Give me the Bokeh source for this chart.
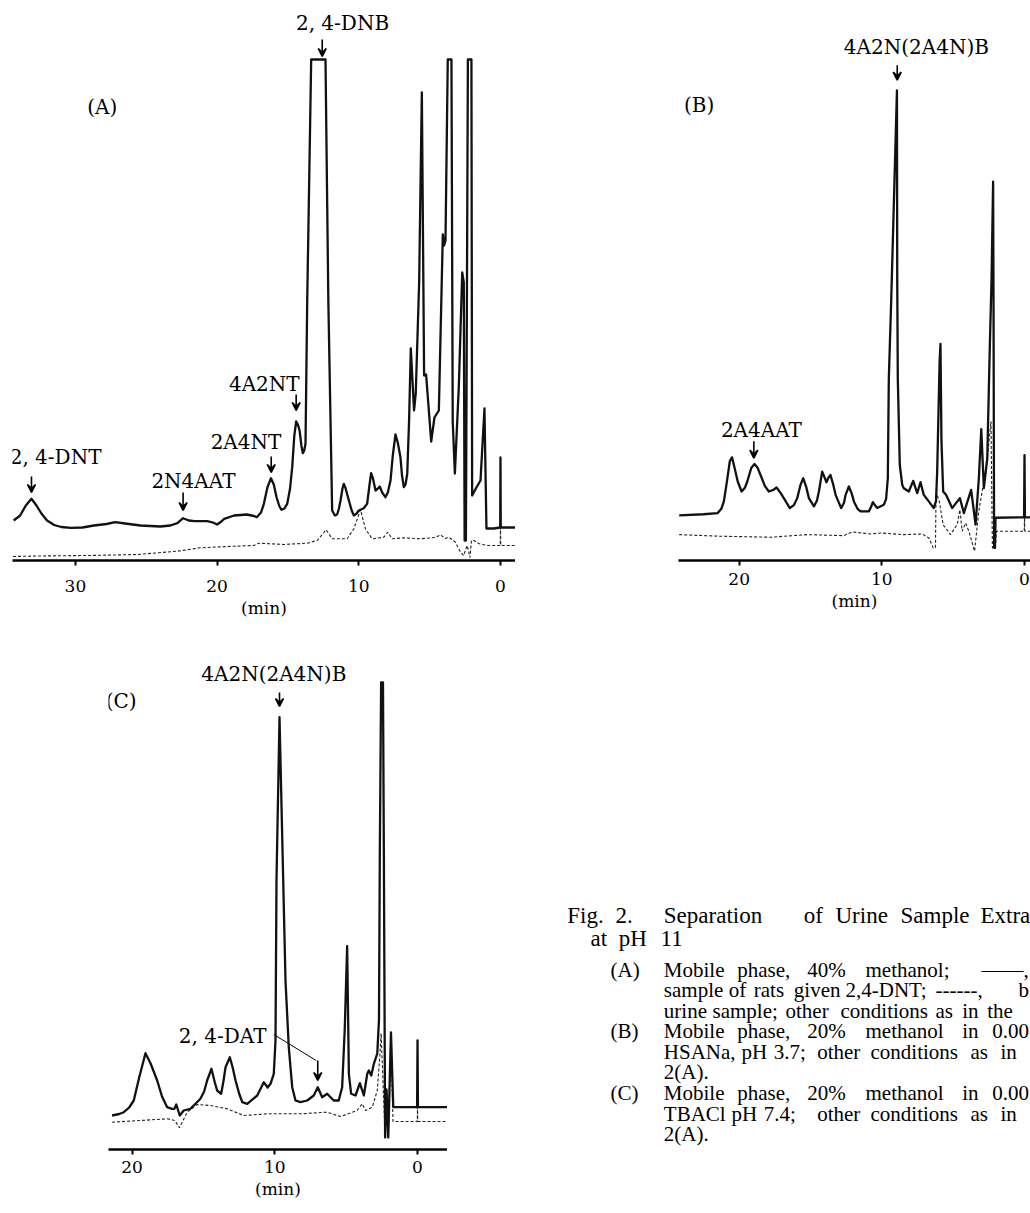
from bokeh.plotting import figure
from bokeh.models import Range1d, FixedTicker, Label, Arrow, VeeHead, Title
from bokeh.layouts import row, column
from bokeh.embed import file_html
from bokeh.resources import INLINE
from bokeh.core.properties import value

SERIF = "DejaVu Serif"
CAPFONT = "Liberation Serif"

# ---------------- data: panel A (40% methanol) ----------------
a_solid_min = [34.36, 33.9, 33.5, 33.1, 32.75, 32.4, 32.0, 31.5, 31.0, 30.3,
               29.5, 28.7, 27.8, 27.2, 26.5, 25.4, 24.0, 23.3, 22.8, 22.4,
               22.0, 21.6, 20.7, 20.3, 20.0, 19.7, 19.5, 18.8, 17.9, 17.4,
               17.2, 16.9, 16.7, 16.45, 16.2, 16.0, 15.8, 15.6, 15.45, 15.25,
               15.05, 14.85, 14.7, 14.55, 14.42, 14.3, 14.18, 14.05, 13.95, 13.85,
               13.76, 13.64, 13.36, 12.35, 12.15, 11.88, 11.69, 11.53, 11.4, 11.29,
               11.15, 11.06, 10.95, 10.7, 10.5, 10.35, 10.15, 10.0, 9.65, 9.41,
               9.25, 9.13, 9.0, 8.82, 8.65, 8.52, 8.35, 8.12, 7.95, 7.76,
               7.6, 7.41, 7.25, 7.06, 6.95, 6.82, 6.7, 6.58, 6.45, 6.33,
               6.1, 5.98, 5.74, 5.55, 5.39, 5.25, 4.89, 4.66, 4.35, 4.07,
               3.98, 3.88, 3.72, 3.46, 3.37, 3.22, 2.94, 2.7, 2.59, 2.53,
               2.44, 2.3, 2.05, 2.0, 1.7, 1.41, 1.13, 0.99, 0.47, 0.02,
               0.0, -0.02, -1.06]
a_solid_sig = [40, 45, 55, 61.7, 55, 47, 40, 35.5, 33.5, 32.7,
               33, 35, 36.5, 38.3, 37, 35, 34, 35, 37.3, 42.3,
               40, 39.3, 39.3, 38, 36, 39, 41.7, 45, 46, 44.5,
               43.3, 48, 56.7, 73, 82.3, 76, 63, 54, 50.7, 52,
               56.7, 72, 93.3, 125, 139, 136, 130, 115, 107.3, 110,
               116.7, 260, 501, 501, 260, 50, 45, 46, 52, 60,
               72, 76.7, 73, 60, 50, 45, 47, 50, 52.3, 56.7,
               75, 87.3, 82, 70, 72, 74, 68, 63.3, 68, 80,
               105, 126, 118, 103.3, 85, 73.3, 76, 86.7, 140, 212,
               150, 167, 278, 468, 185, 186, 119, 143, 150, 326,
               315, 320, 501, 501, 139, 87, 174, 288, 278, 20,
               20, 501, 501, 65, 73, 80, 152, 32, 32, 33,
               103, 33, 33]
a_blank_min = [34.4, 32.7, 29.1, 25.6, 22.8, 21.2, 18.8, 17.4, 17.06, 15.3,
               13.64, 12.94, 12.3, 11.88, 10.82, 10.35, 9.88, 9.53, 9.06, 8.24,
               7.95, 7.64, 6.8, 5.65, 4.6, 4.23, 3.9, 3.65, 3.18, 2.82,
               2.6, 2.35, 2.15, 2.05, 1.88, 1.5, 0.94, 0.02, 0.0, -0.02,
               -1.06]
a_blank_sig = [4, 4.5, 5, 6, 9.3, 12.7, 14.3, 15, 17.3, 16,
               17.3, 20, 30.7, 21.7, 21.7, 31.7, 50.7, 31.7, 21.7, 23.3,
               28.3, 21.7, 22.7, 21.7, 23, 25.7, 22, 23.3, 18.3, 8.3,
               5, 15, 3, 20, 20, 16.7, 15, 15, 33, 15,
               15]
a_ticks = [30, 20, 10, 0]
a_peak_names = ["2, 4-DNT", "2N4AAT", "2A4NT", "4A2NT", "2, 4-DNB"]
a_peak_min = [33.1, 22.4, 16.18, 14.42, 12.58]

# ---------------- data: panel B (20% MeOH, HSANa pH 3.7) ----------------
b_solid_min = [24.2, 22.5, 21.5, 21.25, 21.07, 20.85, 20.65, 20.5, 20.35, 20.1,
               19.83, 19.6, 19.43, 19.15, 18.92, 18.7, 18.5, 18.2, 17.92, 17.6,
               17.38, 17.1, 16.87, 16.45, 16.15, 15.93, 15.7, 15.51, 15.3, 15.11,
               14.76, 14.55, 14.41, 14.18, 14.0, 13.88, 13.75, 13.6, 13.4, 13.24,
               12.85, 12.65, 12.54, 12.31, 12.1, 11.96, 11.7, 11.49, 10.91, 10.75,
               10.63, 10.45, 10.32, 9.86, 9.7, 9.58, 9.51, 9.34, 8.94, 8.92,
               8.88, 8.74, 8.57, 8.46, 8.11, 7.8, 7.52, 7.29, 7.06, 6.71,
               6.36, 6.2, 6.12, 5.95, 5.89, 5.82, 5.7, 5.5, 5.07, 4.53,
               4.25, 3.74, 3.43, 3.2, 3.03, 2.85, 2.61, 2.43, 2.31, 2.2,
               2.17, 2.13, 2.07, 2.03, 0.03, 0.0, -0.03, -0.42]
b_solid_sig = [45.4, 46.5, 47.7, 52, 59.4, 80, 100, 103.7, 95, 79.4,
               69.4, 73, 79.4, 93, 97, 93, 86, 75, 69.4, 71,
               73.4, 68, 62.7, 52.7, 56, 62.7, 76, 82.7, 74, 62.7,
               54.4, 60, 69.4, 89.4, 83, 78.7, 83, 86, 76, 66,
               52.7, 58, 66, 74.4, 67, 59.4, 52, 49.4, 49.4, 54,
               58.7, 55, 52.7, 56, 62, 82.7, 182.7, 262.7, 472.7, 282.7,
               182.7, 96, 76, 72.7, 69.4, 80, 67.7, 78.7, 66, 59.4,
               52.7, 60, 89.4, 200, 217.7, 120, 69.4, 66, 52.7, 62.7,
               47.7, 71, 36, 82.7, 132, 72.7, 102.7, 216, 282.7, 381,
               250, 12.7, 12.7, 43, 43.4, 106, 43.4, 43.4]
b_blank_min = [24.2, 21.3, 17.8, 15.23, 12.66, 12.07, 10.79, 10.09, 8.46, 7.17,
               6.71, 6.4, 6.24, 6.2, 5.98, 5.7, 5.19, 4.72, 4.53, 4.37,
               4.13, 3.9, 3.5, 3.2, 2.97, 2.73, 2.55, 2.35, 2.25, 2.05,
               1.96, 0.02, 0.0, -0.02, -0.42]
b_blank_sig = [26, 24.4, 23.4, 26, 25, 28.7, 26.7, 27.7, 26, 26.7,
               22.7, 12.7, 12.7, 69, 60, 35.9, 26, 36, 51, 29.4,
               37.7, 29.4, 9.4, 50, 69.4, 86, 110, 140, 12.7, 12.7,
               29.4, 29.4, 43.4, 29.4, 29.4]
b_ticks = [20, 10, 0]
b_peak_names = ["2A4AAT", "4A2N(2A4N)B"]
b_peak_min = [18.97, 8.92]

# ---------------- data: panel C (20% MeOH, TBACl pH 7.4) ----------------
c_solid_min = [21.4, 20.9, 20.58, 20.2, 19.88, 19.5, 19.06, 18.7, 18.24, 17.9,
               17.54, 17.2, 17.03, 16.9, 16.66, 16.38, 15.91, 15.21, 14.95, 14.74,
               14.44, 14.2, 14.04, 13.76, 13.6, 13.45, 13.15, 12.95, 12.75, 12.5,
               12.28, 11.93, 11.23, 10.77, 10.5, 10.3, 10.07, 9.95, 9.88, 9.67,
               9.41, 9.25, 9.02, 8.78, 8.55, 8.2, 7.73, 7.27, 6.99, 6.68,
               6.33, 5.87, 5.52, 5.28, 5.1, 4.93, 4.81, 4.65, 4.34, 4.04,
               3.76, 3.52, 3.41, 3.24, 3.06, 2.82, 2.7, 2.64, 2.55, 2.42,
               2.36, 2.27, 2.17, 2.05, 1.86, 1.7, 0.03, 0.0, -0.03, -2.08]
c_solid_sig = [34, 35.5, 37.3, 42, 49, 72, 96.3, 86, 69, 53,
               42.3, 40.7, 40.7, 45, 34, 39, 40.7, 50.7, 58, 69,
               80.7, 67, 59, 55.7, 68, 82.3, 92.3, 82, 69, 56,
               47.3, 45.7, 54, 67.3, 62, 65.7, 75.7, 109, 269, 432.3,
               269, 169, 102.3, 62.3, 49, 47.3, 49, 54, 62.3, 52.3,
               55.7, 49, 49, 62.3, 120, 203.3, 75.7, 55.7, 54, 66.3,
               54, 75.7, 79, 74, 85.7, 96, 130, 300, 467, 467,
               300, 12, 60, 12, 117, 42.3, 42.3, 109, 42.3, 42.3]
c_blank_min = [21.4, 19.41, 17.54, 17.0, 16.68, 16.14, 15.44, 14.5, 13.34, 12.17,
               10.53, 8.2, 6.33, 5.4, 4.23, 3.88, 3.64, 3.17, 2.82, 2.65,
               2.55, 2.27, 2.05, 1.86, 1.72, 0.02, 0.0, -0.02, -2.08]
c_blank_sig = [27.3, 29, 30.7, 29, 21.7, 37.3, 45, 44, 40.7, 34,
               35.7, 35.7, 37.3, 33, 39, 45.7, 39, 42.3, 59, 92,
               116, 12, 12, 116, 28, 28, 42.3, 28, 28]
c_ticks = [20, 10, 0]
c_peak_names = ["4A2N(2A4N)B", "2, 4-DAT"]
c_peak_min = [9.67, 6.99]

# ---------------- caption ----------------
caption_lines = [
    ["Fig.", "2.", "Separation", "of", "Urine", "Sample", "Extra"],
    ["at", "pH", "11"],
    ["(A)", "Mobile", "phase,", "40%", "methanol;", "——,"],
    ["sample", "of", "rats", "given", "2,4-DNT;", "------,", "b"],
    ["urine", "sample;", "other", "conditions", "as", "in", "the"],
    ["(B)", "Mobile", "phase,", "20%", "methanol", "in", "0.00"],
    ["HSANa,", "pH", "3.7;", "other", "conditions", "as", "in"],
    ["2(A)."],
    ["(C)", "Mobile", "phase,", "20%", "methanol", "in", "0.00"],
    ["TBACl", "pH", "7.4;", "other", "conditions", "as", "in"],
    ["2(A)."],
]
caption_word_x = [
    [566.7, 615, 663.3, 803.3, 835, 900, 980],
    [590, 618.3, 660],
    [610, 663.3, 736.7, 806.7, 865, 981],
    [663.3, 728.3, 753.3, 793.3, 845, 935, 1018],
    [663.3, 712, 785, 840, 935, 961.7, 986.7],
    [610, 663.3, 736.7, 806.7, 865, 961.7, 991.7],
    [663.3, 741, 773.3, 816.7, 870, 970, 1000],
    [663.3],
    [610, 663.3, 736.7, 806.7, 865, 961.7, 991.7],
    [663.3, 731, 763.3, 816.7, 870, 970, 1000],
    [663.3],
]
caption_line_y = [940, 967, 1003, 1027, 1051, 1075, 1099, 1123, 1147, 1171, 1195]
caption_line_size = [23, 23, 21, 21, 21, 21, 21, 21, 21, 21, 21]


def panel(width, height, left, bottom, xr, yr, ticks, standoff, min_offset, top=0):
    p = figure(width=width, height=height, output_backend="svg", toolbar_location=None,
               x_range=Range1d(*xr), y_range=Range1d(*yr), y_axis_location=None,
               min_border_left=left, min_border_right=0, min_border_top=top,
               min_border_bottom=bottom, title=None)
    p.outline_line_color = None
    p.grid.visible = False
    p.background_fill_color = "white"
    p.border_fill_color = "white"
    ax = p.xaxis[0]
    ax.ticker = FixedTicker(ticks=ticks)
    ax.axis_line_width = 2.5
    ax.axis_line_color = "black"
    ax.major_tick_out = 5
    ax.major_tick_in = 0
    ax.minor_tick_out = 0
    ax.minor_tick_in = 0
    ax.major_tick_line_width = 2
    ax.major_label_text_font = SERIF
    ax.major_label_text_font_size = "17px"
    ax.major_label_text_color = "black"
    ax.major_label_standoff = standoff
    p.add_layout(Title(text="(min)", align="center", offset=min_offset, standoff=2,
                       text_font=SERIF, text_font_size="17px", text_font_style="normal",
                       text_color="black"), "below")
    return p


def traces(p, sm, ss, bm, bs):
    p.line(bm, bs, line_width=1.1, line_color="#222222", line_dash="3 2")
    p.line(sm, ss, line_width=2.3, line_color="#111111", line_join="round")


def lab(p, x, y, text, size="20px"):
    p.add_layout(Label(x=x, y=y, text=text, text_font=SERIF, text_font_size=size,
                       text_align="center", text_baseline="middle", text_color="black"))


def arrow(p, x, y0, y1):
    p.add_layout(Arrow(end=VeeHead(size=8, line_width=1.6, line_color="black", fill_color="black"),
                       x_start=x, y_start=y0, x_end=x, y_end=y1,
                       line_width=1.6, line_color="black"))


# ---------------- panel A ----------------
pA = panel(515, 630, 12, 70, (34.44, -1.06), (0, 560), a_ticks, 14, -7.5)
traces(pA, a_solid_min, a_solid_sig, a_blank_min, a_blank_sig)
lab(pA, 28.1, 454, "(A)")
lab(pA, 31.4, 103.3, a_peak_names[0])
lab(pA, 21.67, 80, a_peak_names[1])
lab(pA, 17.96, 119, a_peak_names[2])
lab(pA, 16.67, 176.7, a_peak_names[3])
lab(pA, 11.15, 537.3, a_peak_names[4])
arrow(pA, a_peak_min[0], 84, 68)
arrow(pA, a_peak_min[1], 68, 50)
arrow(pA, a_peak_min[2], 104, 88)
arrow(pA, a_peak_min[3], 166, 150)
arrow(pA, a_peak_min[4], 521, 504)

# ---------------- panel B ----------------
pB = panel(515, 630, 163, 67, (24.25, -0.42), (0, 563), b_ticks, 7, 28)
traces(pB, b_solid_min, b_solid_sig, b_blank_min, b_blank_sig)
lab(pB, 22.8, 457.7, "(B)")
lab(pB, 18.44, 131.7, b_peak_names[0])
lab(pB, 7.58, 516, b_peak_names[1])
arrow(pB, b_peak_min[0], 120, 103)
arrow(pB, b_peak_min[1], 498, 483)

# ---------------- panel C ----------------
pC = panel(447, 583, 108, 64, (21.65, -2.1), (0, 499), c_ticks, 6, 5, top=20)
traces(pC, c_solid_min, c_solid_sig, c_blank_min, c_blank_sig)
lab(pC, 20.76, 449, "(C)")
lab(pC, 10.07, 475.7, c_peak_names[0])
lab(pC, 13.65, 114, c_peak_names[1])
arrow(pC, c_peak_min[0], 457, 443)
pC.add_layout(Arrow(end=None, x_start=10.07, y_start=115, x_end=7.1, y_end=89,
                    line_width=1, line_color="black"))
arrow(pC, c_peak_min[1], 89, 69)

# ---------------- caption ----------------
pCap = figure(width=583, height=583, output_backend="svg", toolbar_location=None,
              x_range=Range1d(447, 1030), y_range=Range1d(1213, 630),
              x_axis_location=None, y_axis_location=None, min_border=0, title=None)
pCap.outline_line_color = None
pCap.grid.visible = False
for words, xs, y, size in zip(caption_lines, caption_word_x, caption_line_y, caption_line_size):
    pCap.text(x=xs, y=[y] * len(xs), text=words, text_font=value(CAPFONT),
              text_font_size=value(f"{size}px"), text_align="left",
              text_baseline="middle", text_color="black")

layout = column(row(pA, pB), row(pC, pCap))
open("out.html", "w").write(file_html(layout, INLINE))
